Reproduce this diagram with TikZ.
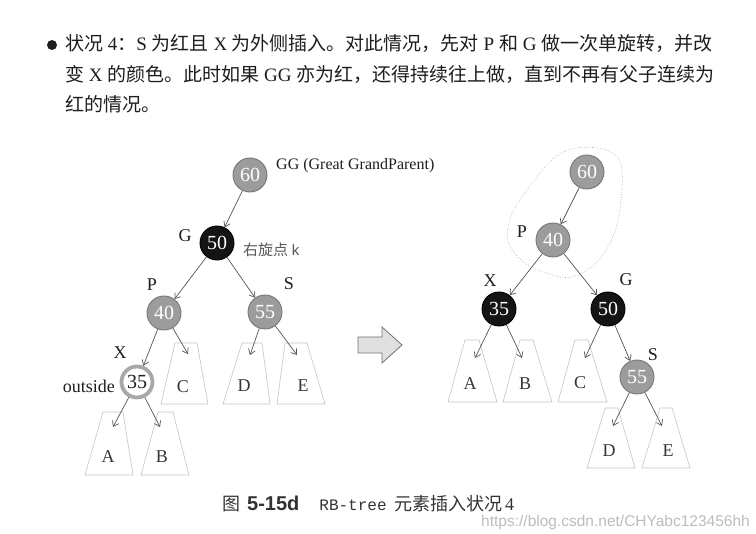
\documentclass[tikz,border=0pt]{standalone}
\usepackage{fontspec}
\setmainfont{Liberation Serif}
\newfontfamily\cjk{Noto Sans CJK SC}
\newfontfamily\sansf{Liberation Sans}
\newfontfamily\monof{Liberation Mono}
\usetikzlibrary{arrows.meta}
\definecolor{ink}{HTML}{1E1E1E}
\definecolor{redfill}{HTML}{9C9C9C}
\definecolor{redline}{HTML}{777777}
\definecolor{edgec}{HTML}{555555}
\definecolor{trapc}{HTML}{C4C4C4}
\definecolor{ringc}{HTML}{A8A8A8}
\definecolor{wmark}{HTML}{BDBDBD}
\newcommand{\C}[1]{{\cjk #1}}
\tikzset{
  rednode/.style={circle, minimum size=34pt, inner sep=0pt, fill=redfill, draw=redline, line width=0.9pt, text=white, font=\fontsize{20}{20}\selectfont},
  blknode/.style={circle, minimum size=34pt, inner sep=0pt, fill=black!92, draw=black, line width=0.9pt, text=white, font=\fontsize{20}{20}\selectfont},
  newnode/.style={circle, minimum size=31pt, inner sep=0pt, fill=white, draw=ringc, line width=3.8pt, text=ink, font=\fontsize{20}{20}\selectfont},
  lab/.style={inner sep=0pt, text=ink, font=\fontsize{18}{18}\selectfont},
  leaf/.style={inner sep=0pt, text=ink!90, font=\fontsize{18}{18}\selectfont},
  trap/.style={draw=trapc, line width=0.6pt},
  edge/.style={draw=edgec, line width=0.7pt, -{Straight Barb[length=5pt,width=7pt]}},
  hline/.style={anchor=base west, inner sep=0pt, text=ink, font=\fontsize{19}{19}\selectfont},
}
\begin{document}
\begin{tikzpicture}[x=1pt,y=-1pt]
\useasboundingbox (0,0) rectangle (756,534);
\fill[white] (0,0) rectangle (756,534);

% header
\fill[ink] (52,45) circle (5);
\node[hline] (h1) at (65,51) {\C{状况} 4\C{：}S \C{为红且} X \C{为外侧插入。对此情况，先对} P \C{和} G \C{做一次单旋转，并改}};
\node[hline] (h2) at (65,82) {\C{变} X \C{的颜色。此时如果} GG \C{亦为红，还得持续往上做，直到不再有父子连续为}};
\node[hline] (h3) at (65,112) {\C{红的情况。}};

% ---------- left tree ----------
\node[rednode] (GG) at (250,175) {60};
\node[blknode] (G) at (217,243) {50};
\node[rednode] (P) at (164,313) {40};
\node[rednode] (S) at (265,312) {55};
\node[newnode] (X) at (137,382) {35};

\node[anchor=west, inner sep=0pt, text=ink, font=\fontsize{16}{16}\selectfont] (GGlab) at (276,166) {GG (Great GrandParent)};
\node[lab] (Glab) at (185,236) {G};
\node[anchor=west, inner sep=0pt, text=black!65, font=\fontsize{15}{15}\selectfont] (rot) at (243,250) {\C{右旋点} \sansf k};
\node[lab] (Plab) at (152,285) {P};
\node[lab] (Slab) at (289,284) {S};
\node[lab] (Xlab) at (120,353) {X};
\node[lab, anchor=east] (outs) at (115,386) {outside};

% trapezoids left
\draw[trap] (161,404) -- (175,343) -- (197,343) -- (208,404) -- cycle;
\draw[trap] (223,404) -- (242,343) -- (262,343) -- (270,404) -- cycle;
\draw[trap] (277,404) -- (285,343) -- (307,343) -- (325,404) -- cycle;
\draw[trap] (85,475) -- (103,412) -- (123,412) -- (133,475) -- cycle;
\draw[trap] (141,475) -- (158,412) -- (173,412) -- (189,475) -- cycle;
\node[leaf] (LC) at (183,387) {C};
\node[leaf] (LD) at (244,386) {D};
\node[leaf] (LE) at (303,386) {E};
\node[leaf] (LA) at (108,457) {A};
\node[leaf] (LB) at (162,457) {B};

\coordinate (tLC) at (188,354);
\coordinate (tLD) at (250,355);
\coordinate (tLE) at (297,355);
\coordinate (tLA) at (113,427);
\coordinate (tLB) at (160,427);

\draw[edge] (GG) -- (G);
\draw[edge] (G) -- (P);
\draw[edge] (G) -- (S);
\draw[edge] (P) -- (X);
\draw[edge] (P) -- (tLC);
\draw[edge] (S) -- (tLD);
\draw[edge] (S) -- (tLE);
\draw[edge] (X) -- (tLA);
\draw[edge] (X) -- (tLB);

% big arrow
\draw[fill=black!12, draw=black!55, line width=0.8pt] (358,337) -- (382,337) -- (382,327) -- (402,345) -- (382,363) -- (382,353) -- (358,353) -- cycle;

% ---------- right tree ----------
\draw[draw=black!40, line width=0.6pt, dotted] plot[smooth cycle, tension=0.6] coordinates {
  (576,148) (606,150) (621,164) (621,200) (614,234) (597,262) (572,277) (546,273) (522,261) (508,240) (512,214) (530,186) (553,159)};

\node[rednode] (R60) at (587,172) {60};
\node[rednode] (R40) at (553,240) {40};
\node[blknode] (RX) at (499,309) {35};
\node[blknode] (RG) at (608,309) {50};
\node[rednode] (RS) at (637,377) {55};

\node[lab] (RPlab) at (522,232) {P};
\node[lab] (RXlab) at (490,281) {X};
\node[lab] (RGlab) at (626,280) {G};
\node[lab] (RSlab) at (653,355) {S};

\draw[trap] (448,402) -- (465,340) -- (479,340) -- (497,402) -- cycle;
\draw[trap] (503,402) -- (520,340) -- (533,340) -- (552,402) -- cycle;
\draw[trap] (558,402) -- (575,340) -- (588,340) -- (607,402) -- cycle;
\draw[trap] (587,468) -- (605,408) -- (618,408) -- (635,468) -- cycle;
\draw[trap] (642,468) -- (660,408) -- (672,408) -- (690,468) -- cycle;
\node[leaf] (RA) at (470,384) {A};
\node[leaf] (RB) at (525,384) {B};
\node[leaf] (RC) at (580,383) {C};
\node[leaf] (RD) at (609,451) {D};
\node[leaf] (RE) at (668,451) {E};

\coordinate (tRA) at (475,358);
\coordinate (tRB) at (522,358);
\coordinate (tRC) at (585,358);
\coordinate (tRD) at (613,426);
\coordinate (tRE) at (662,426);

\draw[edge] (R60) -- (R40);
\draw[edge] (R40) -- (RX);
\draw[edge] (R40) -- (RG);
\draw[edge] (RX) -- (tRA);
\draw[edge] (RX) -- (tRB);
\draw[edge] (RG) -- (tRC);
\draw[edge] (RG) -- (RS);
\draw[edge] (RS) -- (tRD);
\draw[edge] (RS) -- (tRE);

% caption
\node[anchor=base west, inner sep=0pt, text=black!80] (cap) at (222,511)
  {{\cjk\fontsize{18}{18}\selectfont 图}\hspace{7pt}{\sansf\bfseries\fontsize{20}{20}\selectfont 5-15d}\hspace{20pt}{\monof\fontsize{16}{16}\selectfont RB-tree}\hspace{8pt}{\cjk\fontsize{18}{18}\selectfont 元素插入状况} {\fontsize{18}{18}\selectfont 4}};
\node[anchor=base east, inner sep=0pt, text=wmark, font=\sansf\fontsize{15.5}{15.5}\selectfont] (wm) at (750,527) {https://blog.csdn.net/CHYabc123456hh};
\end{tikzpicture}
\end{document}
